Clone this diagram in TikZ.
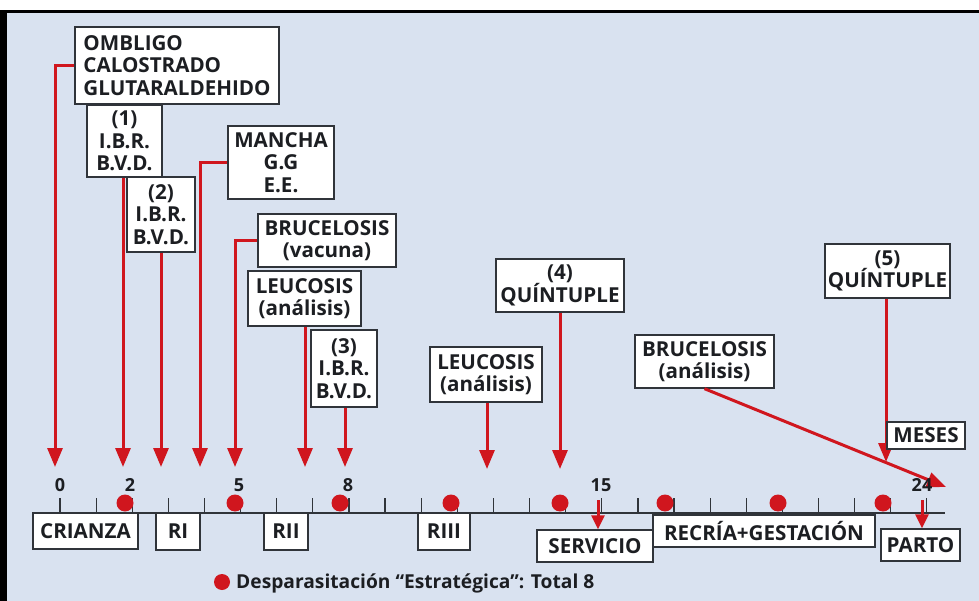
\documentclass[tikz,border=0pt]{standalone}
\usepackage{fontspec}
\setmainfont{Open Sans}
\usetikzlibrary{arrows.meta}
\definecolor{bg}{RGB}{217,226,240}
\definecolor{arr}{RGB}{208,22,30}
\definecolor{ink}{RGB}{28,30,34}
\definecolor{edge}{RGB}{48,52,58}
\begin{document}
\begin{tikzpicture}[x=1pt,y=-1pt,
  box/.style={draw=edge, line width=1.4pt, fill=white, inner sep=0pt, align=center, text=ink,
    font=\bfseries\fontsize{20.6}{22.5}\selectfont},
  conn/.style={draw=arr, line width=3pt, line join=miter},
  arrowto/.style={conn, -{Triangle[length=19pt,width=15pt]}},
  smallarrow/.style={conn, -{Triangle[length=14pt,width=13pt]}},
  dot/.style={circle, fill=arr, inner sep=0pt, minimum size=17pt},
  ticklab/.style={text=ink, font=\bfseries\fontsize{18}{18}\selectfont, inner sep=0pt},
  tickmark/.style={draw=edge, line width=1.2pt},
  axisline/.style={draw=edge, line width=1.4pt}]
\useasboundingbox (0,0) rectangle (979,601);
% background and frame
\fill[white] (0,0) rectangle (979,601);
\fill[bg] (7,13) rectangle (979,601);
\fill[black] (0,10) rectangle (979,13);
\fill[black] (0,10) rectangle (7,601);

% arrow tip coordinates
\coordinate (t0) at (55,467);
\coordinate (t2) at (123,467);
\coordinate (t3) at (161,467);
\coordinate (t4) at (200,467);
\coordinate (t5) at (235,467);
\coordinate (t6) at (305,467);
\coordinate (t7) at (345,467);
\coordinate (t8) at (487,469);
\coordinate (t9) at (560,469);
\coordinate (t10) at (886,462);
\coordinate (t11) at (946,487);
\coordinate (s0) at (598,500);
\coordinate (p0) at (922,500);

% boxes (top)
\node[box, minimum width=204pt, minimum height=77pt, align=left] (omb) at (177,65.5)
  {OMBLIGO\\CALOSTRADO\\GLUTARALDEHIDO};
\node[box, minimum width=75pt, minimum height=72pt] (ibr1) at (124.5,141) {(1)\\I.B.R.\\B.V.D.};
\node[box, minimum width=68pt, minimum height=75pt] (ibr2) at (161,214.5) {(2)\\I.B.R.\\B.V.D.};
\node[box, minimum width=106pt, minimum height=73pt] (mancha) at (281,162.5) {MANCHA\\G.G\\E.E.};
\node[box, minimum width=138pt, minimum height=53pt] (bruvac) at (327,240.5) {BRUCELOSIS\\(vacuna)};
\node[box, minimum width=113pt, minimum height=55pt] (leu1) at (304.5,298.5) {LEUCOSIS\\(análisis)};
\node[box, minimum width=66pt, minimum height=77pt] (ibr3) at (344,368.5) {(3)\\I.B.R.\\B.V.D.};
\node[box, minimum width=112pt, minimum height=55pt] (leu2) at (486,374.5) {LEUCOSIS\\(análisis)};
\node[box, minimum width=128pt, minimum height=53pt] (q4) at (560,285.5) {(4)\\QUÍNTUPLE};
\node[box, minimum width=139pt, minimum height=53pt] (bruana) at (704.5,361.5) {BRUCELOSIS\\(análisis)};
\node[box, minimum width=125pt, minimum height=54pt] (q5) at (887.5,271) {(5)\\QUÍNTUPLE};

% connectors
\draw[arrowto] (omb.west) -| (t0);
\draw[arrowto] (t2 |- ibr1.south) -- (t2);
\draw[arrowto] (t3 |- ibr2.south) -- (t3);
\draw[arrowto] (mancha.west) -| (t4);
\draw[arrowto] (bruvac.west) -| (t5);
\draw[arrowto] (t6 |- leu1.south) -- (t6);
\draw[arrowto] (t7 |- ibr3.south) -- (t7);
\draw[arrowto] (t8 |- leu2.south) -- (t8);
\draw[arrowto] (t9 |- q4.south) -- (t9);
\draw[arrowto] (bruana.south) -- (t11);
\draw[arrowto] (t10 |- q5.south) -- (t10);

\node[box, minimum width=78pt, minimum height=27pt] (meses) at (926,435.5) {MESES};

% axis
\draw[axisline] (33,513) -- (945,513);
\foreach \m in {0,...,24} \draw[tickmark] ({60+36.12*\m},498) -- ({60+36.12*\m},513);

% tick labels
\node[ticklab] (l0) at (60,485) {0};
\node[ticklab] (l2) at (130,485) {2};
\node[ticklab] (l5) at (239,485) {5};
\node[ticklab] (l8) at (348,485) {8};
\node[ticklab] (l15) at (601,485) {15};
\node[ticklab] (l24) at (922,485) {24};

% dots
\foreach \x [count=\i] in {125,235,340,451,560,665,778,883}
  \node[dot] (d\i) at (\x,503) {};

% bottom boxes
\node[box, minimum width=105pt, minimum height=36pt] (crianza) at (85.5,531) {CRIANZA};
\node[box, minimum width=44pt, minimum height=37pt] (ri) at (178,531.5) {RI};
\node[box, minimum width=44pt, minimum height=37pt] (rii) at (286,531.5) {RII};
\node[box, minimum width=52pt, minimum height=37pt] (riii) at (444,531.5) {RIII};
\node[box, minimum width=116pt, minimum height=32pt] (servicio) at (595,546) {SERVICIO};
\node[box, minimum width=222pt, minimum height=32pt] (recria) at (764,531) {RECRÍA+GESTACIÓN};
\node[box, minimum width=79pt, minimum height=32pt] (parto) at (920.5,545) {PARTO};

\draw[smallarrow] (s0) -- (s0 |- servicio.north);
\draw[smallarrow] (p0) -- (p0 |- parto.north);

% legend
\node[dot, minimum size=16pt] (ldot) at (222,582) {};
\node[anchor=west, text=ink, inner sep=0pt, font=\bfseries\fontsize{19.2}{19.2}\selectfont] (ltext) at (236,583)
  {Desparasitación “Estratégica”: Total 8};
\end{tikzpicture}
\end{document}
